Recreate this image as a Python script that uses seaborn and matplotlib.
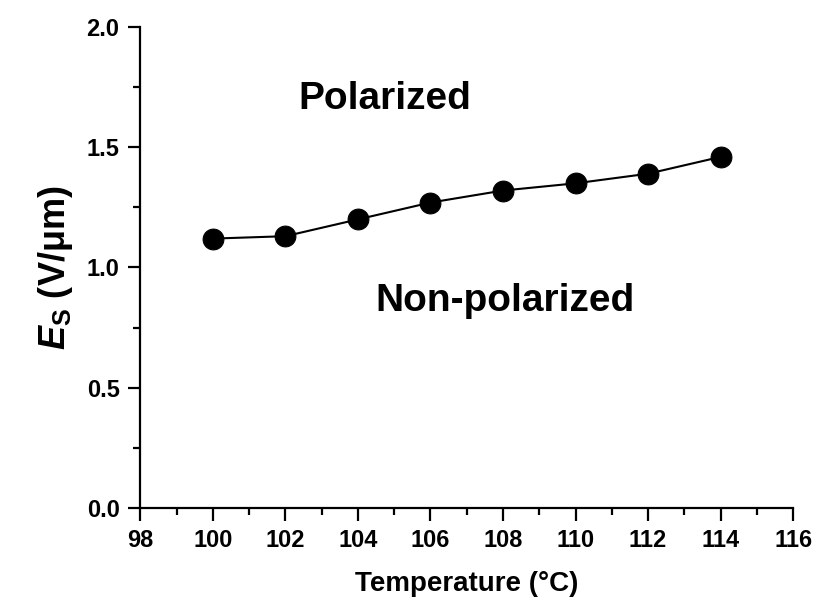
import matplotlib
matplotlib.use("Agg")
import matplotlib.pyplot as plt
from matplotlib.ticker import MultipleLocator
import pandas as pd
import seaborn as sns

temperature = [100, 102, 104, 106, 108, 110, 112, 114]
field = [1.12, 1.13, 1.20, 1.27, 1.32, 1.35, 1.39, 1.46]

sns.set_theme(style="ticks")
plt.rcParams["font.family"] = ["Liberation Sans", "DejaVu Sans"]
plt.rcParams["mathtext.fontset"] = "custom"
plt.rcParams["mathtext.it"] = "Liberation Sans:bold:italic"
plt.rcParams["mathtext.rm"] = "Liberation Sans:bold"
for key in ["text.color", "axes.labelcolor", "xtick.color", "ytick.color",
            "axes.edgecolor"]:
    plt.rcParams[key] = "black"

df = pd.DataFrame({"T": temperature, "Es": field})

fig = plt.figure(figsize=(8.16, 6.03), dpi=100)
ax = fig.add_axes([0.172, 0.158, 0.800, 0.797])

sns.lineplot(data=df, x="T", y="Es", ax=ax, color="black", linewidth=1.5,
             marker="o", markersize=15, markeredgecolor="black")

ax.set_xlim(98, 116)
ax.set_ylim(0, 2.0)
ax.xaxis.set_major_locator(MultipleLocator(2))
ax.xaxis.set_minor_locator(MultipleLocator(1))
ax.yaxis.set_major_locator(MultipleLocator(0.5))
ax.yaxis.set_minor_locator(MultipleLocator(0.25))

for side in ["top", "right"]:
    ax.spines[side].set_visible(False)
for side in ["left", "bottom"]:
    ax.spines[side].set_linewidth(1.6)

ax.tick_params(which="major", direction="out", length=9, width=1.6,
               labelsize=17, pad=6)
ax.tick_params(which="minor", direction="out", length=5, width=1.6)
ax.set_xticks(list(range(98, 117, 2)))
ax.set_xticklabels([str(v) for v in range(98, 117, 2)], fontweight="bold")
ax.set_yticks([0.0, 0.5, 1.0, 1.5, 2.0])
ax.set_yticklabels(["0.0", "0.5", "1.0", "1.5", "2.0"], fontweight="bold")

ax.set_xlabel("Temperature (°C)", fontsize=20, fontweight="bold", labelpad=14)
ax.set_ylabel(r"$\mathit{E}_{\mathrm{S}}$ (V/μm)", fontsize=26, fontweight="bold",
              labelpad=8)

ax.text(104.75, 1.70, "Polarized", fontsize=28, fontweight="bold",
        ha="center", va="center")
ax.text(108.05, 0.86, "Non-polarized", fontsize=28, fontweight="bold",
        ha="center", va="center")

fig.savefig("out.png", dpi=100)
